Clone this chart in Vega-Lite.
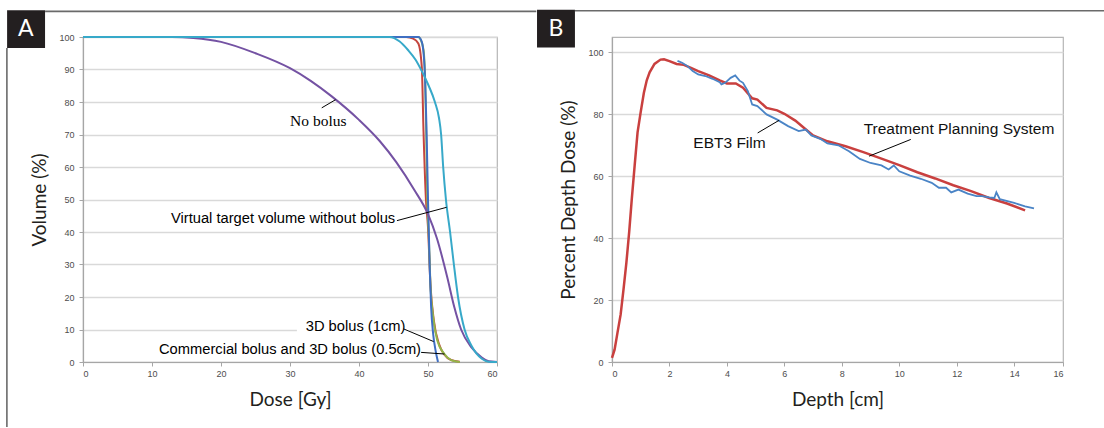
{
  "$schema": "https://vega.github.io/schema/vega-lite/v6.json",
  "background": "white",
  "padding": {"left": 5, "top": 9, "right": 0, "bottom": 0},
  "bounds": "flush",
  "spacing": 115,
  "resolve": {"scale": {"color": "independent", "x": "independent", "y": "independent"}},
  "datasets": {
    "dvh": [
      {"s": "Commercial bolus", "x": 0, "y": 100}, {"s": "Commercial bolus", "x": 46.85, "y": 100}, {"s": "Commercial bolus", "x": 47.85, "y": 99.5}, {"s": "Commercial bolus", "x": 48.6, "y": 98}, {"s": "Commercial bolus", "x": 49.1, "y": 90.8}, {"s": "Commercial bolus", "x": 49.35, "y": 71}, {"s": "Commercial bolus", "x": 49.7, "y": 50}, {"s": "Commercial bolus", "x": 50.0, "y": 41.5}, {"s": "Commercial bolus", "x": 50.35, "y": 24}, {"s": "Commercial bolus", "x": 50.85, "y": 12.7}, {"s": "Commercial bolus", "x": 51.6, "y": 5.5}, {"s": "Commercial bolus", "x": 52.35, "y": 2.3}, {"s": "Commercial bolus", "x": 53.35, "y": 0.6}, {"s": "Commercial bolus", "x": 54.6, "y": 0.1},
      {"s": "3D bolus (0.5cm)", "x": 0, "y": 100}, {"s": "3D bolus (0.5cm)", "x": 48.6, "y": 100}, {"s": "3D bolus (0.5cm)", "x": 48.85, "y": 99.5}, {"s": "3D bolus (0.5cm)", "x": 49.35, "y": 96}, {"s": "3D bolus (0.5cm)", "x": 49.6, "y": 85.6}, {"s": "3D bolus (0.5cm)", "x": 49.75, "y": 70}, {"s": "3D bolus (0.5cm)", "x": 49.9, "y": 50}, {"s": "3D bolus (0.5cm)", "x": 50.1, "y": 39.4}, {"s": "3D bolus (0.5cm)", "x": 50.35, "y": 24}, {"s": "3D bolus (0.5cm)", "x": 50.75, "y": 13.8}, {"s": "3D bolus (0.5cm)", "x": 51.35, "y": 6.6}, {"s": "3D bolus (0.5cm)", "x": 52.35, "y": 2.5}, {"s": "3D bolus (0.5cm)", "x": 53.35, "y": 0.6}, {"s": "3D bolus (0.5cm)", "x": 54.6, "y": 0},
      {"s": "3D bolus (1cm)", "x": 0, "y": 100}, {"s": "3D bolus (1cm)", "x": 48.6, "y": 100}, {"s": "3D bolus (1cm)", "x": 49.1, "y": 98.5}, {"s": "3D bolus (1cm)", "x": 49.5, "y": 90.8}, {"s": "3D bolus (1cm)", "x": 49.8, "y": 70}, {"s": "3D bolus (1cm)", "x": 50.0, "y": 50}, {"s": "3D bolus (1cm)", "x": 50.25, "y": 29}, {"s": "3D bolus (1cm)", "x": 50.45, "y": 17}, {"s": "3D bolus (1cm)", "x": 50.75, "y": 8.6}, {"s": "3D bolus (1cm)", "x": 51.1, "y": 3.5}, {"s": "3D bolus (1cm)", "x": 51.45, "y": 0},
      {"s": "No bolus", "x": 0, "y": 100}, {"s": "No bolus", "x": 12.9, "y": 100}, {"s": "No bolus", "x": 16, "y": 99.7}, {"s": "No bolus", "x": 20, "y": 98.5}, {"s": "No bolus", "x": 25, "y": 95}, {"s": "No bolus", "x": 30, "y": 90.4}, {"s": "No bolus", "x": 33, "y": 86.5}, {"s": "No bolus", "x": 36, "y": 81.8}, {"s": "No bolus", "x": 40, "y": 74.5}, {"s": "No bolus", "x": 43, "y": 68}, {"s": "No bolus", "x": 45.4, "y": 61.5}, {"s": "No bolus", "x": 48, "y": 53}, {"s": "No bolus", "x": 50, "y": 45.5}, {"s": "No bolus", "x": 51.3, "y": 38}, {"s": "No bolus", "x": 52.8, "y": 26}, {"s": "No bolus", "x": 53.8, "y": 17}, {"s": "No bolus", "x": 54.8, "y": 10}, {"s": "No bolus", "x": 56.3, "y": 4.5}, {"s": "No bolus", "x": 57.8, "y": 1.4}, {"s": "No bolus", "x": 58.8, "y": 0.2}, {"s": "No bolus", "x": 60, "y": 0},
      {"s": "Virtual target", "x": 0, "y": 100}, {"s": "Virtual target", "x": 44.4, "y": 100}, {"s": "Virtual target", "x": 45.9, "y": 98.6}, {"s": "Virtual target", "x": 47.1, "y": 96}, {"s": "Virtual target", "x": 48.2, "y": 93}, {"s": "Virtual target", "x": 49.1, "y": 89.5}, {"s": "Virtual target", "x": 50.1, "y": 85}, {"s": "Virtual target", "x": 51.0, "y": 80}, {"s": "Virtual target", "x": 51.6, "y": 75}, {"s": "Virtual target", "x": 51.9, "y": 70}, {"s": "Virtual target", "x": 52.2, "y": 60}, {"s": "Virtual target", "x": 52.6, "y": 50}, {"s": "Virtual target", "x": 53.2, "y": 40}, {"s": "Virtual target", "x": 53.75, "y": 30}, {"s": "Virtual target", "x": 54.35, "y": 20}, {"s": "Virtual target", "x": 55.3, "y": 10}, {"s": "Virtual target", "x": 56.3, "y": 5}, {"s": "Virtual target", "x": 57.8, "y": 1}, {"s": "Virtual target", "x": 58.8, "y": 0.1}, {"s": "Virtual target", "x": 60, "y": 0}
    ],
    "pdd": [
      {"s": "Treatment Planning System", "x": 0, "y": 1.3}, {"s": "Treatment Planning System", "x": 0.09, "y": 4}, {"s": "Treatment Planning System", "x": 0.19, "y": 9.4}, {"s": "Treatment Planning System", "x": 0.3, "y": 15.3}, {"s": "Treatment Planning System", "x": 0.4, "y": 23.4}, {"s": "Treatment Planning System", "x": 0.5, "y": 32}, {"s": "Treatment Planning System", "x": 0.6, "y": 42.2}, {"s": "Treatment Planning System", "x": 0.69, "y": 52.8}, {"s": "Treatment Planning System", "x": 0.79, "y": 63.6}, {"s": "Treatment Planning System", "x": 0.89, "y": 74.2}, {"s": "Treatment Planning System", "x": 1.0, "y": 80.8}, {"s": "Treatment Planning System", "x": 1.11, "y": 87}, {"s": "Treatment Planning System", "x": 1.21, "y": 91}, {"s": "Treatment Planning System", "x": 1.31, "y": 93.6}, {"s": "Treatment Planning System", "x": 1.48, "y": 96.3}, {"s": "Treatment Planning System", "x": 1.69, "y": 97.7}, {"s": "Treatment Planning System", "x": 1.81, "y": 97.8}, {"s": "Treatment Planning System", "x": 2.0, "y": 97.2}, {"s": "Treatment Planning System", "x": 2.25, "y": 96.3}, {"s": "Treatment Planning System", "x": 2.5, "y": 96}, {"s": "Treatment Planning System", "x": 2.75, "y": 95}, {"s": "Treatment Planning System", "x": 3.0, "y": 94}, {"s": "Treatment Planning System", "x": 3.38, "y": 92.6}, {"s": "Treatment Planning System", "x": 3.75, "y": 91}, {"s": "Treatment Planning System", "x": 4.0, "y": 90}, {"s": "Treatment Planning System", "x": 4.31, "y": 90}, {"s": "Treatment Planning System", "x": 4.56, "y": 88.6}, {"s": "Treatment Planning System", "x": 4.88, "y": 85.2}, {"s": "Treatment Planning System", "x": 5.06, "y": 84.8}, {"s": "Treatment Planning System", "x": 5.38, "y": 82.1}, {"s": "Treatment Planning System", "x": 5.75, "y": 81.3}, {"s": "Treatment Planning System", "x": 6.0, "y": 80.2}, {"s": "Treatment Planning System", "x": 6.38, "y": 78}, {"s": "Treatment Planning System", "x": 6.75, "y": 75.1}, {"s": "Treatment Planning System", "x": 7.0, "y": 73.2}, {"s": "Treatment Planning System", "x": 7.5, "y": 71.3}, {"s": "Treatment Planning System", "x": 8.13, "y": 69.7}, {"s": "Treatment Planning System", "x": 8.75, "y": 67.8}, {"s": "Treatment Planning System", "x": 9.38, "y": 65.7}, {"s": "Treatment Planning System", "x": 10.0, "y": 63.6}, {"s": "Treatment Planning System", "x": 10.63, "y": 61.3}, {"s": "Treatment Planning System", "x": 11.25, "y": 59.3}, {"s": "Treatment Planning System", "x": 11.88, "y": 57.1}, {"s": "Treatment Planning System", "x": 12.5, "y": 55.2}, {"s": "Treatment Planning System", "x": 13.13, "y": 53}, {"s": "Treatment Planning System", "x": 13.75, "y": 51.2}, {"s": "Treatment Planning System", "x": 14.38, "y": 49},
      {"s": "EBT3 Film", "x": 2.28, "y": 97.3}, {"s": "EBT3 Film", "x": 2.44, "y": 96.7}, {"s": "EBT3 Film", "x": 2.63, "y": 95.6}, {"s": "EBT3 Film", "x": 2.81, "y": 94}, {"s": "EBT3 Film", "x": 3.0, "y": 92.9}, {"s": "EBT3 Film", "x": 3.25, "y": 92.4}, {"s": "EBT3 Film", "x": 3.5, "y": 91.5}, {"s": "EBT3 Film", "x": 3.75, "y": 90.4}, {"s": "EBT3 Film", "x": 3.81, "y": 89.7}, {"s": "EBT3 Film", "x": 3.94, "y": 90.2}, {"s": "EBT3 Film", "x": 4.13, "y": 91.8}, {"s": "EBT3 Film", "x": 4.29, "y": 92.6}, {"s": "EBT3 Film", "x": 4.44, "y": 90.9}, {"s": "EBT3 Film", "x": 4.56, "y": 90.2}, {"s": "EBT3 Film", "x": 4.73, "y": 87.5}, {"s": "EBT3 Film", "x": 4.88, "y": 83.2}, {"s": "EBT3 Film", "x": 5.06, "y": 82.7}, {"s": "EBT3 Film", "x": 5.38, "y": 80}, {"s": "EBT3 Film", "x": 5.75, "y": 78.3}, {"s": "EBT3 Film", "x": 6.13, "y": 76.2}, {"s": "EBT3 Film", "x": 6.5, "y": 74.6}, {"s": "EBT3 Film", "x": 6.75, "y": 75.1}, {"s": "EBT3 Film", "x": 6.94, "y": 73.2}, {"s": "EBT3 Film", "x": 7.25, "y": 72.1}, {"s": "EBT3 Film", "x": 7.5, "y": 70.6}, {"s": "EBT3 Film", "x": 7.88, "y": 70}, {"s": "EBT3 Film", "x": 8.25, "y": 68.1}, {"s": "EBT3 Film", "x": 8.63, "y": 65.6}, {"s": "EBT3 Film", "x": 9.0, "y": 64.3}, {"s": "EBT3 Film", "x": 9.38, "y": 63.5}, {"s": "EBT3 Film", "x": 9.63, "y": 62.2}, {"s": "EBT3 Film", "x": 9.81, "y": 63.5}, {"s": "EBT3 Film", "x": 10.0, "y": 61.6}, {"s": "EBT3 Film", "x": 10.38, "y": 60.2}, {"s": "EBT3 Film", "x": 10.75, "y": 59.2}, {"s": "EBT3 Film", "x": 11.13, "y": 57.9}, {"s": "EBT3 Film", "x": 11.38, "y": 56.3}, {"s": "EBT3 Film", "x": 11.63, "y": 56.3}, {"s": "EBT3 Film", "x": 11.81, "y": 54.8}, {"s": "EBT3 Film", "x": 12.06, "y": 55.7}, {"s": "EBT3 Film", "x": 12.38, "y": 54.4}, {"s": "EBT3 Film", "x": 12.69, "y": 53.6}, {"s": "EBT3 Film", "x": 12.88, "y": 53.6}, {"s": "EBT3 Film", "x": 13.13, "y": 53.2}, {"s": "EBT3 Film", "x": 13.31, "y": 53}, {"s": "EBT3 Film", "x": 13.38, "y": 54.8}, {"s": "EBT3 Film", "x": 13.5, "y": 52.6}, {"s": "EBT3 Film", "x": 14.0, "y": 51.4}, {"s": "EBT3 Film", "x": 14.38, "y": 50.3}, {"s": "EBT3 Film", "x": 14.69, "y": 49.6}
    ]
  },
  "hconcat": [
    {
      "width": 414,
      "height": 325,
      "encoding": {
        "x": {"field": "x", "type": "quantitative", "scale": {"domain": [0, 60], "nice": false}, "title": "Dose [Gy]", "axis": {"values": [0, 10, 20, 30, 40, 50, 60], "grid": false, "labelPadding": 3, "titlePadding": 12}},
        "y": {"field": "y", "type": "quantitative", "scale": {"domain": [0, 100], "nice": false}, "title": "Volume (%)", "axis": {"values": [0, 10, 20, 30, 40, 50, 60, 70, 80, 90, 100], "grid": true, "labelPadding": 5, "titlePadding": 9}}
      },
      "layer": [
        {
          "data": {"values": [{"x": 31.0, "x2": 47.3, "y": 8.9, "y2": 12.5}]},
          "mark": {"type": "rect", "fill": "white"},
          "encoding": {"x2": {"field": "x2"}, "y2": {"field": "y2"}}
        },
        {
          "data": {"name": "dvh"},
          "mark": {"type": "line", "strokeWidth": 2, "interpolate": "monotone"},
          "encoding": {
            "color": {"field": "s", "type": "nominal", "legend": null, "scale": {"domain": ["Commercial bolus", "3D bolus (0.5cm)", "3D bolus (1cm)", "No bolus", "Virtual target"], "range": ["#c4463f", "#93b648", "#3f6fc2", "#7452a3", "#37a9c9"]}},
            "order": {"field": "x", "type": "quantitative"}
          }
        },
        {
          "data": {"values": [
            {"x": 34.6, "y": 78.2, "x2": 36.6, "y2": 80.7},
            {"x": 45.5, "y": 43.5, "x2": 52.7, "y2": 47.6},
            {"x": 46.45, "y": 10.2, "x2": 50.8, "y2": 6.3},
            {"x": 49.0, "y": 2.96, "x2": 52.4, "y2": 2.46}
          ]},
          "mark": {"type": "rule", "color": "black", "strokeWidth": 1},
          "encoding": {"x2": {"field": "x2"}, "y2": {"field": "y2"}}
        },
        {
          "data": {"values": [
            {"t": "Virtual target volume without bolus", "x": 29.0, "y": 44.0},
            {"t": "3D bolus (1cm)", "x": 39.5, "y": 10.66},
            {"t": "Commercial bolus and 3D bolus (0.5cm)", "x": 30.0, "y": 3.8}
          ]},
          "mark": {"type": "text", "font": "Liberation Sans", "fontSize": 14.7, "color": "black", "align": "center", "baseline": "middle"},
          "encoding": {"text": {"field": "t"}}
        },
        {
          "data": {"values": [{"t": "No bolus", "x": 34.1, "y": 74.3}]},
          "mark": {"type": "text", "font": "Liberation Serif", "fontSize": 15.5, "color": "black", "align": "center", "baseline": "middle"},
          "encoding": {"text": {"field": "t"}}
        },
        {
          "data": {"values": [{"x": -11.0, "x2": -5.5, "y": 96.6, "y2": 108.2}]},
          "mark": {"type": "rect", "fill": "#231f20"},
          "encoding": {"x2": {"field": "x2"}, "y2": {"field": "y2"}}
        },
        {
          "data": {"values": [{"t": "A", "x": -8.3, "y": 102.4}]},
          "mark": {"type": "text", "font": "Lato", "fontSize": 23, "color": "white", "align": "center", "baseline": "middle"},
          "encoding": {"text": {"field": "t"}}
        },
        {
          "data": {"values": [
            {"x": -5.5, "x2": 65.7, "y": 107.9, "y2": 107.9},
            {"x": -11.03, "x2": -11.03, "y": 96.6, "y2": -20}
          ]},
          "mark": {"type": "rule", "color": "#6a6a6a", "strokeWidth": 1.6},
          "encoding": {"x2": {"field": "x2"}, "y2": {"field": "y2"}}
        }
      ]
    },
    {
      "width": 451,
      "height": 325,
      "encoding": {
        "x": {"field": "x", "type": "quantitative", "scale": {"domain": [0, 15.7], "nice": false}, "title": "Depth [cm]", "axis": {"values": [0, 2, 4, 6, 8, 10, 12, 14, 15.7], "labelExpr": "datum.value > 15 ? '16' : datum.label", "grid": false, "labelPadding": 3, "titlePadding": 12}},
        "y": {"field": "y", "type": "quantitative", "scale": {"domain": [0, 105], "nice": false}, "title": "Percent Depth Dose (%)", "axis": {"values": [0, 20, 40, 60, 80, 100], "grid": true, "labelPadding": 5, "titlePadding": 9}}
      },
      "layer": [
        {
          "data": {"name": "pdd"},
          "mark": {"type": "line", "interpolate": "linear"},
          "encoding": {
            "color": {"field": "s", "type": "nominal", "legend": null, "scale": {"domain": ["EBT3 Film", "Treatment Planning System"], "range": ["#4a84c6", "#c9403f"]}},
            "strokeWidth": {"field": "s", "type": "nominal", "legend": null, "scale": {"domain": ["EBT3 Film", "Treatment Planning System"], "range": [1.8, 2.5]}},
            "order": {"field": "x", "type": "quantitative"}
          }
        },
        {
          "data": {"values": [
            {"x": 5.07, "y": 74.0, "x2": 5.82, "y2": 78.1},
            {"x": 10.4, "y": 71.9, "x2": 8.95, "y2": 66.5}
          ]},
          "mark": {"type": "rule", "color": "black", "strokeWidth": 1},
          "encoding": {"x2": {"field": "x2"}, "y2": {"field": "y2"}}
        },
        {
          "data": {"values": [
            {"t": "EBT3 Film", "x": 4.09, "y": 70.8},
            {"t": "Treatment Planning System", "x": 12.08, "y": 75.4}
          ]},
          "mark": {"type": "text", "font": "Liberation Sans", "fontSize": 15.5, "color": "#111111", "align": "center", "baseline": "middle"},
          "encoding": {"text": {"field": "t"}}
        },
        {
          "data": {"values": [{"x": -2.61, "x2": -1.29, "y": 101.6, "y2": 113.8}]},
          "mark": {"type": "rect", "fill": "#231f20"},
          "encoding": {"x2": {"field": "x2"}, "y2": {"field": "y2"}}
        },
        {
          "data": {"values": [{"t": "B", "x": -1.95, "y": 107.7}]},
          "mark": {"type": "text", "font": "Lato", "fontSize": 23, "color": "white", "align": "center", "baseline": "middle"},
          "encoding": {"text": {"field": "t"}}
        },
        {
          "data": {"values": [{"x": -1.29, "x2": 17.2, "y": 113.5, "y2": 113.5}]},
          "mark": {"type": "rule", "color": "#6a6a6a", "strokeWidth": 1.6},
          "encoding": {"x2": {"field": "x2"}, "y2": {"field": "y2"}}
        }
      ]
    }
  ],
  "config": {
    "view": {"stroke": "#b5b5b5", "strokeWidth": 1.2},
    "axis": {
      "labelFont": "Liberation Sans",
      "labelFontSize": 9,
      "labelColor": "#4d4d4d",
      "titleFont": "Lato",
      "titleFontSize": 19,
      "titleFontWeight": "normal",
      "titleColor": "#231f20",
      "domainColor": "#a6a6a6",
      "domainWidth": 1.2,
      "tickColor": "#a6a6a6",
      "tickSize": 4,
      "gridColor": "#d9d9d9",
      "gridWidth": 1.5
    }
  }
}
